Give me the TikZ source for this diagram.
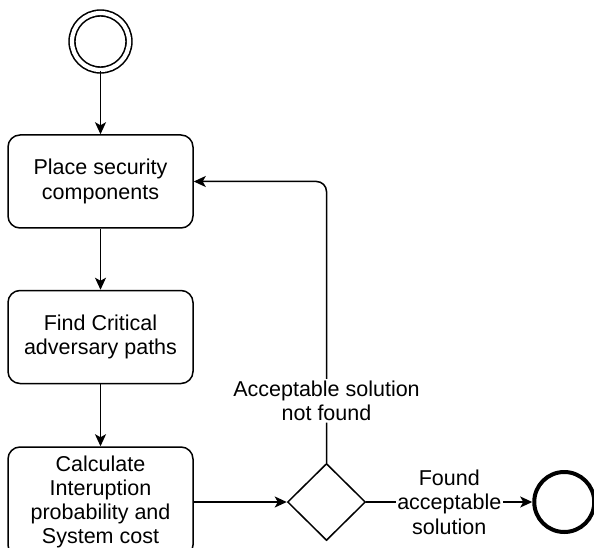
\documentclass[tikz,border=0pt]{standalone}
\usepackage{fontspec}
\setmainfont{Liberation Sans}
\usepackage{tikz}
\usetikzlibrary{arrows.meta,positioning,shapes.geometric}
\tikzset{
  task/.style={draw,rounded corners=12pt,line width=1.5pt,minimum width=185pt,minimum height=#1,align=center,inner sep=2pt},
  task/.default=93pt,
  startev/.style={circle,draw,double,line width=1.6pt,double distance=4.2pt,minimum size=57pt,inner sep=0pt},
  endev/.style={circle,draw,line width=4pt,minimum size=60pt,inner sep=0pt},
  gateway/.style={diamond,draw,line width=1.5pt,minimum width=78pt,minimum height=77pt,inner sep=0pt},
  flow/.style={-{Stealth[length=12pt,width=11pt,inset=3pt]},line width=1.5pt},
  lbl/.style={fill=white,align=center,inner sep=1.5pt}
}

\begin{document}
\begin{tikzpicture}[x=1pt,y=1pt,node distance=61pt,font=\fontsize{21.5}{24.5}\selectfont]
    \useasboundingbox (0,0) rectangle (594,547);
    % Nodes
    \node[startev] (start) at (100.5,505.5) {};
    \node[task] (place) at (100.5,365.5) {Place security\\components};
    \node[task, below=of place] (find) {Find Critical\\adversary paths};
    \node[task=110pt, below=62pt of find, font=\fontsize{21.5}{23.8}\selectfont, yshift=0pt] (calc) {Calculate\\Interuption\\probability and\\System cost};
    \node[gateway, right=93pt of calc] (gate) {};
    \node[endev, right=166pt of gate] (stop) {};

    % Paths
    \draw[flow] (start) -- (place);
    \draw[flow] (place) -- (find);
    \draw[flow] (find) -- (calc);
    \draw[flow] (calc) -- (gate);
    \draw[flow] (gate) -- node[lbl] {Found\\acceptable\\solution} (stop);
    \draw[flow,rounded corners=10pt] (gate.north) -- node[lbl,pos=0.22] {Acceptable solution\\not found} (gate.north |- place.east) -- (place.east);
  \end{tikzpicture}
\end{document}
